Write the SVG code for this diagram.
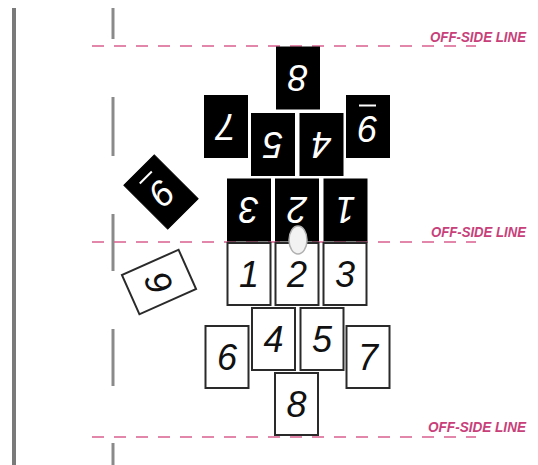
<svg xmlns="http://www.w3.org/2000/svg" width="538" height="465" viewBox="0 0 538 465">
<style>
.bg{fill:#fff}
.side{stroke:#7a7a7a;stroke-width:4;fill:none}
.vdash{stroke:#8a8a8a;stroke-width:3;fill:none}
.off{stroke:#d9608e;stroke-width:1.6;stroke-dasharray:12 10;fill:none}
.offt{font-family:"Liberation Sans",Arial,sans-serif;font-style:italic;font-weight:bold;font-size:15px;fill:#c8407a}
.wc rect{fill:#fff;stroke:#2a2a2a;stroke-width:2}
.wc text{font-family:"Liberation Sans",Arial,sans-serif;font-style:italic;font-size:36px;fill:#111;text-anchor:middle}
.bc rect{fill:#000;stroke:#000;stroke-width:1}
.bc text{font-family:"Liberation Sans",Arial,sans-serif;font-style:italic;font-size:36px;fill:#fff;text-anchor:middle}
.bar{stroke:#fff;stroke-width:2}
</style>
<rect class="bg" x="0" y="0" width="538" height="465"/>
<g id="field">
<line class="side" x1="14" y1="8" x2="14" y2="465"/>
<line class="vdash" x1="113" y1="8" x2="113" y2="39"/>
<line class="vdash" x1="113" y1="97" x2="113" y2="156"/>
<line class="vdash" x1="113" y1="214" x2="113" y2="271"/>
<line class="vdash" x1="113" y1="329" x2="113" y2="386"/>
<line class="vdash" x1="113" y1="443" x2="113" y2="465"/>
</g>
<g id="offside-lines">
<line class="off" x1="92" y1="46" x2="476" y2="46"/>
<line class="off" x1="92" y1="242" x2="476" y2="242"/>
<line class="off" x1="92" y1="437" x2="476" y2="437"/>
<text class="offt" x="430" y="42" textLength="96" lengthAdjust="spacingAndGlyphs">OFF-SIDE LINE</text>
<text class="offt" x="431" y="237" textLength="95" lengthAdjust="spacingAndGlyphs">OFF-SIDE LINE</text>
<text class="offt" x="428" y="432" textLength="98" lengthAdjust="spacingAndGlyphs">OFF-SIDE LINE</text>
</g>
<g id="b8" class="bc" transform="translate(298,78) rotate(180)"><rect x="-21.5" y="-31" width="43" height="62"/><text y="13">8</text></g>
<g id="b7" class="bc" transform="translate(226,126.5) rotate(180)"><rect x="-21.5" y="-31" width="43" height="62"/><text y="13">7</text></g>
<g id="b9" class="bc" transform="translate(368,126.5) rotate(180)"><rect x="-21.5" y="-31" width="43" height="62"/><text y="11">9</text><line class="bar" x1="-8" y1="21" x2="9" y2="21"/></g>
<g id="b5" class="bc" transform="translate(273,144.5) rotate(180)"><rect x="-21.5" y="-31" width="43" height="62"/><text y="13">5</text></g>
<g id="b4" class="bc" transform="translate(321.5,144.5) rotate(180)"><rect x="-21.5" y="-31" width="43" height="62"/><text y="13">4</text></g>
<g id="b3" class="bc" transform="translate(249,210) rotate(180)"><rect x="-21.5" y="-31" width="43" height="62"/><text y="13">3</text></g>
<g id="b2" class="bc" transform="translate(297,210) rotate(180)"><rect x="-21.5" y="-31" width="43" height="62"/><text y="13">2</text></g>
<g id="b1" class="bc" transform="translate(345.5,210) rotate(180)"><rect x="-21.5" y="-31" width="43" height="62"/><text y="13">1</text></g>
<g id="b9t" class="bc" transform="translate(161,192) rotate(135)"><rect x="-21.5" y="-31" width="43" height="62"/><text y="11">9</text><line class="bar" x1="-8" y1="21" x2="9" y2="21"/></g>
<g id="w1" class="wc" transform="translate(249,274)"><rect x="-21.5" y="-31" width="43" height="62"/><text y="13">1</text></g>
<g id="w2" class="wc" transform="translate(297,274)"><rect x="-21.5" y="-31" width="43" height="62"/><text y="13">2</text></g>
<g id="w3" class="wc" transform="translate(345,274)"><rect x="-21.5" y="-31" width="43" height="62"/><text y="13">3</text></g>
<g id="w4" class="wc" transform="translate(273.5,339)"><rect x="-21.5" y="-31" width="43" height="62"/><text y="13">4</text></g>
<g id="w5" class="wc" transform="translate(322,339)"><rect x="-21.5" y="-31" width="43" height="62"/><text y="13">5</text></g>
<g id="w6" class="wc" transform="translate(227,357)"><rect x="-21.5" y="-31" width="43" height="62"/><text y="13">6</text></g>
<g id="w7" class="wc" transform="translate(368,357)"><rect x="-21.5" y="-31" width="43" height="62"/><text y="13">7</text></g>
<g id="w8" class="wc" transform="translate(296.5,404)"><rect x="-21.5" y="-31" width="43" height="62"/><text y="13">8</text></g>
<g id="w9" class="wc" transform="translate(159,282) rotate(66)"><rect x="-21.5" y="-31" width="43" height="62"/><text y="13">9</text></g>
<g id="ball"><ellipse cx="298" cy="240" rx="9" ry="14" fill="#f2f2f2" stroke="#b0b0b0" stroke-width="1.5"/></g>
</svg>
